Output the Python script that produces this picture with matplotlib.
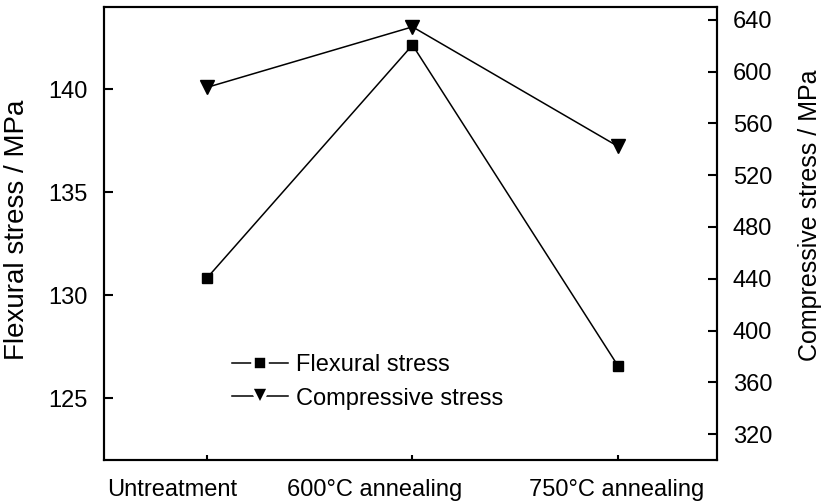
import matplotlib
matplotlib.use("Agg")
import matplotlib.pyplot as plt
from matplotlib.lines import Line2D
from matplotlib.transforms import ScaledTranslation

plt.rcParams['font.family'] = ['Liberation Sans', 'DejaVu Sans']
plt.rcParams['font.size'] = 17

# data
treatments = ['Untreatment', '600°C annealing', '750°C annealing']
flexural = [130.83, 142.15, 126.56]
compressive = [587.8, 634.6, 542.2]

fig = plt.figure(figsize=(8.27, 5.04), dpi=100)
ax = fig.add_axes([0.1258, 0.0873, 0.741, 0.899])
ax2 = ax.twinx()

x = list(range(len(treatments)))
ax.plot(x, flexural, color='black', lw=1.1, marker='s', ms=7.5, zorder=3)
ax2.plot(x, compressive, color='black', lw=1.1, marker='v', ms=9.5, zorder=3)

ax.set_xlim(-0.5, 2.48)
ax.set_ylim(122, 144)
ax2.set_ylim(300, 650)

ax.set_yticks([125, 130, 135, 140])
ax2.set_yticks(range(320, 641, 40))
ax.set_xticks(x)
ax.set_xticklabels(treatments)
ax.set_xticks([1], minor=True)

for a in (ax, ax2):
    for s in a.spines.values():
        s.set_linewidth(1.5)

ax.tick_params(axis='y', direction='in', length=6.5, width=1.5, pad=11.5)
ax2.tick_params(axis='y', direction='in', length=6.5, width=1.5, pad=11.5)
ax.tick_params(axis='x', which='major', direction='in', length=3.5, width=1.5, pad=13.5)
ax.tick_params(axis='x', which='minor', direction='in', length=7, width=1.5)

# the category labels sit a bit left of their ticks in the original
shifts = [-35, -38, -2]
for lab, dx in zip(ax.get_xticklabels(), shifts):
    lab.set_transform(lab.get_transform() + ScaledTranslation(dx / 100, 0, fig.dpi_scale_trans))

ax.set_ylabel('Flexural stress / MPa', fontsize=20, labelpad=13.5)
ax.yaxis.label.set_y(0.508)
ax2.set_ylabel('Compressive stress / MPa', fontsize=18, rotation=90, labelpad=18.5)
ax2.yaxis.label.set_y(0.54)

# legend: proxy handles with white-edged markers to leave gaps on the line
h1 = Line2D([], [], color='black', lw=1.1, marker='s', ms=10, mfc='black',
            mec='white', mew=2.6)
h2 = Line2D([], [], color='black', lw=1.1, marker='v', ms=12.5, mfc='black',
            mec='white', mew=2.6)
ax.legend([h1, h2], ['Flexural stress', 'Compressive stress'],
          loc='upper left', bbox_to_anchor=(0.209, 0.233), frameon=False,
          borderpad=0, borderaxespad=0, handlelength=2.35, handletextpad=0.35,
          labelspacing=0.47, fontsize=17)

fig.savefig('out.png', dpi=100)
